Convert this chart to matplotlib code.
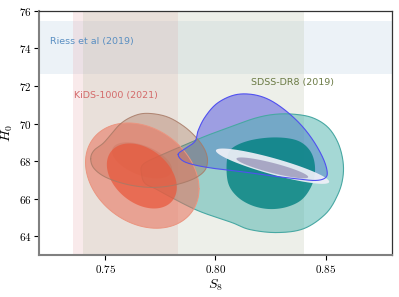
import numpy as np
import matplotlib
matplotlib.use("Agg")
import matplotlib.pyplot as plt
from matplotlib.ticker import FuncFormatter

plt.rcParams['mathtext.fontset'] = 'cm'

# Axis ranges and ticks
s8_lim = [0.72, 0.88]
h0_lim = [63, 76]
s8_ticks = [0.75, 0.80, 0.85]
h0_ticks = [64, 66, 68, 70, 72, 74, 76]

# Priors / bands
riess_h0 = [72.61, 75.45]
kids_s8 = [0.7352, 0.783]
sdss_s8 = [0.740, 0.840]

# Elliptical contours: centre S8, centre H0, half-width S8, half-height H0, correlation
kids_outer = [0.7668, 67.23, 0.02575, 2.80, -0.25]
kids_inner = [0.7666, 67.21, 0.01587, 1.73, -0.35]
brown_inner = [0.7667, 68.04, 0.0136, 0.96, -0.5]
narrow_outer = [0.8259, 67.73, 0.0257, 0.939, -0.88]
narrow_inner = [0.8258, 67.64, 0.01627, 0.555, -0.87]

brown_s8 = [0.7434, 0.7449, 0.7495, 0.7567, 0.7631, 0.7694, 0.7780, 0.7857, 0.7916,
            0.7953, 0.7964, 0.7948, 0.7894, 0.7803, 0.7703, 0.7599, 0.7504, 0.7449]
brown_h0 = [68.13, 68.57, 69.00, 69.96, 70.41, 70.54, 70.36, 69.85, 69.21,
            68.57, 67.98, 67.45, 67.02, 66.70, 66.60, 66.76, 67.13, 67.61]

teal_s8 = [0.7665, 0.7671, 0.7749, 0.7839, 0.7953, 0.8066, 0.8179, 0.8270, 0.8360,
           0.8442, 0.8510, 0.8555, 0.8578, 0.8578, 0.8555, 0.8501, 0.8401, 0.8279,
           0.8156, 0.8075, 0.7930, 0.7817, 0.7735, 0.7681]
teal_h0 = [67.29, 67.82, 68.30, 68.75, 69.32, 69.81, 70.28, 70.49, 70.49,
           70.30, 69.80, 69.00, 68.04, 67.13, 66.22, 65.21, 64.41, 64.20,
           64.36, 64.73, 65.32, 65.96, 66.49, 66.81]

teal_in_s8 = [0.8052, 0.8075, 0.8156, 0.8270, 0.8370, 0.8428, 0.8451, 0.8442,
              0.8397, 0.8329, 0.8247, 0.8166, 0.8098, 0.8057]
teal_in_h0 = [68.04, 68.68, 69.10, 69.26, 69.10, 68.57, 67.77, 66.86,
              66.01, 65.58, 65.45, 65.64, 66.12, 66.86]

blue_s8 = [0.7831, 0.7862, 0.7907, 0.7922, 0.7953, 0.8006, 0.8081, 0.8156, 0.8232,
           0.8307, 0.8383, 0.8443, 0.8489, 0.8507, 0.8496, 0.8451, 0.8368, 0.8278,
           0.8187, 0.8096, 0.8006, 0.7915, 0.7854]
blue_h0 = [68.36, 68.66, 69.05, 69.64, 70.35, 71.06, 71.50, 71.56, 71.33,
           70.79, 69.99, 69.10, 68.13, 67.41, 67.09, 66.97, 67.06, 67.18,
           67.33, 67.47, 67.59, 67.77, 68.00]


def ellipse(p, n=300):
    cx, cy, a, b, rho = p
    t = np.linspace(0, 2 * np.pi, n)
    x = cx + a * np.cos(t)
    y = cy + b * (rho * np.cos(t) + np.sqrt(1 - rho ** 2) * np.sin(t))
    return x, y


def smooth(xs, ys, n=16):
    # closed Catmull-Rom curve through the outline points
    P = np.column_stack([xs, ys])
    N = len(P)
    t = np.linspace(0, 1, n, endpoint=False)[:, None]
    out = []
    for i in range(N):
        p0, p1, p2, p3 = P[i - 1], P[i], P[(i + 1) % N], P[(i + 2) % N]
        out.append(0.5 * (2 * p1 + (-p0 + p2) * t + (2 * p0 - 5 * p1 + 4 * p2 - p3) * t ** 2
                          + (-p0 + 3 * p1 - 3 * p2 + p3) * t ** 3))
    out = np.vstack(out)
    out = np.vstack([out, out[:1]])
    return out[:, 0], out[:, 1]


fig = plt.figure(figsize=(3.99, 2.97), dpi=100)
ax = fig.add_axes([0.098, 0.141, 0.884, 0.823])

# bands
ax.axhspan(riess_h0[0], riess_h0[1], color='#4682b4', alpha=0.1, lw=0, zorder=0)
ax.axvspan(kids_s8[0], kids_s8[1], color='#e8a0a8', alpha=0.22, lw=0, zorder=0)
ax.axvspan(sdss_s8[0], sdss_s8[1], color='#bbc3ab', alpha=0.25, lw=0, zorder=0)

# blue
bx, by = smooth(blue_s8, blue_h0)
ax.fill(bx, by, color='#4646dc', alpha=0.48, lw=0, zorder=1)

# teal
tx, ty = smooth(teal_s8, teal_h0)
ax.fill(tx, ty, color='#4db3ad', alpha=0.5, lw=0, zorder=2)
ax.plot(tx, ty, color='#48a8a3', lw=0.8, zorder=2.5)
tix, tiy = smooth(teal_in_s8, teal_in_h0)
ax.fill(tix, tiy, color='#008080', alpha=0.8, lw=0, zorder=3)

# brown
wx, wy = smooth(brown_s8, brown_h0)
ax.fill(wx, wy, color='#a0644a', alpha=0.34, lw=0, zorder=4)
x, y = ellipse(brown_inner)
ax.fill(x, y, color='#a0644a', alpha=0.3, lw=0, zorder=4.2)

# KiDS
x, y = ellipse(kids_outer)
ax.fill(x, y, color='#e8705a', alpha=0.55, lw=0, zorder=5)
ax.plot(x, y, color='#eb9580', lw=0.7, zorder=5)
x, y = ellipse(kids_inner)
ax.fill(x, y, color='#e8583c', alpha=0.72, lw=0, zorder=6)

# narrow contour
x, y = ellipse(narrow_outer)
ax.fill(x, y, color='#f0f0f8', alpha=0.92, lw=0, zorder=7)
x, y = ellipse(narrow_inner)
ax.fill(x, y, color='#857da8', alpha=0.6, lw=0, zorder=8)

# outlines on top
ax.plot(wx, wy, color='#a87a66', lw=0.75, alpha=0.85, zorder=9)
ax.plot(bx, by, color='#5050f0', lw=0.8, zorder=9)

# labels
ax.text(0.725, 74.37, 'Riess et al (2019)', color='#5a8fc2', fontsize=6.8,
        ha='left', va='center', zorder=10)
ax.text(0.736, 71.47, 'KiDS-1000 (2021)', color='#d46a6a', fontsize=6.8,
        ha='left', va='center', zorder=10)
ax.text(0.816, 72.16, 'SDSS-DR8 (2019)', color='#6b7b45', fontsize=6.8,
        ha='left', va='center', zorder=10)

ax.set_xlim(s8_lim)
ax.set_ylim(h0_lim)
ax.set_xticks(s8_ticks)
ax.set_yticks(h0_ticks)
ax.xaxis.set_major_formatter(FuncFormatter(lambda v, p: f'${v:.2f}$'))
ax.yaxis.set_major_formatter(FuncFormatter(lambda v, p: f'${v:.0f}$'))
ax.tick_params(labelsize=8, length=3.5, width=0.8, direction='out', pad=2)
ax.set_xlabel('$S_8$', fontsize=10, labelpad=2)
ax.set_ylabel('$H_0$', fontsize=10, labelpad=3)

for side in ['left', 'bottom']:
    ax.spines[side].set_color('#808080')
    ax.spines[side].set_linewidth(1.5)
for side in ['top', 'right']:
    ax.spines[side].set_color('#333333')
    ax.spines[side].set_linewidth(0.9)

fig.savefig('out.png', dpi=100)
